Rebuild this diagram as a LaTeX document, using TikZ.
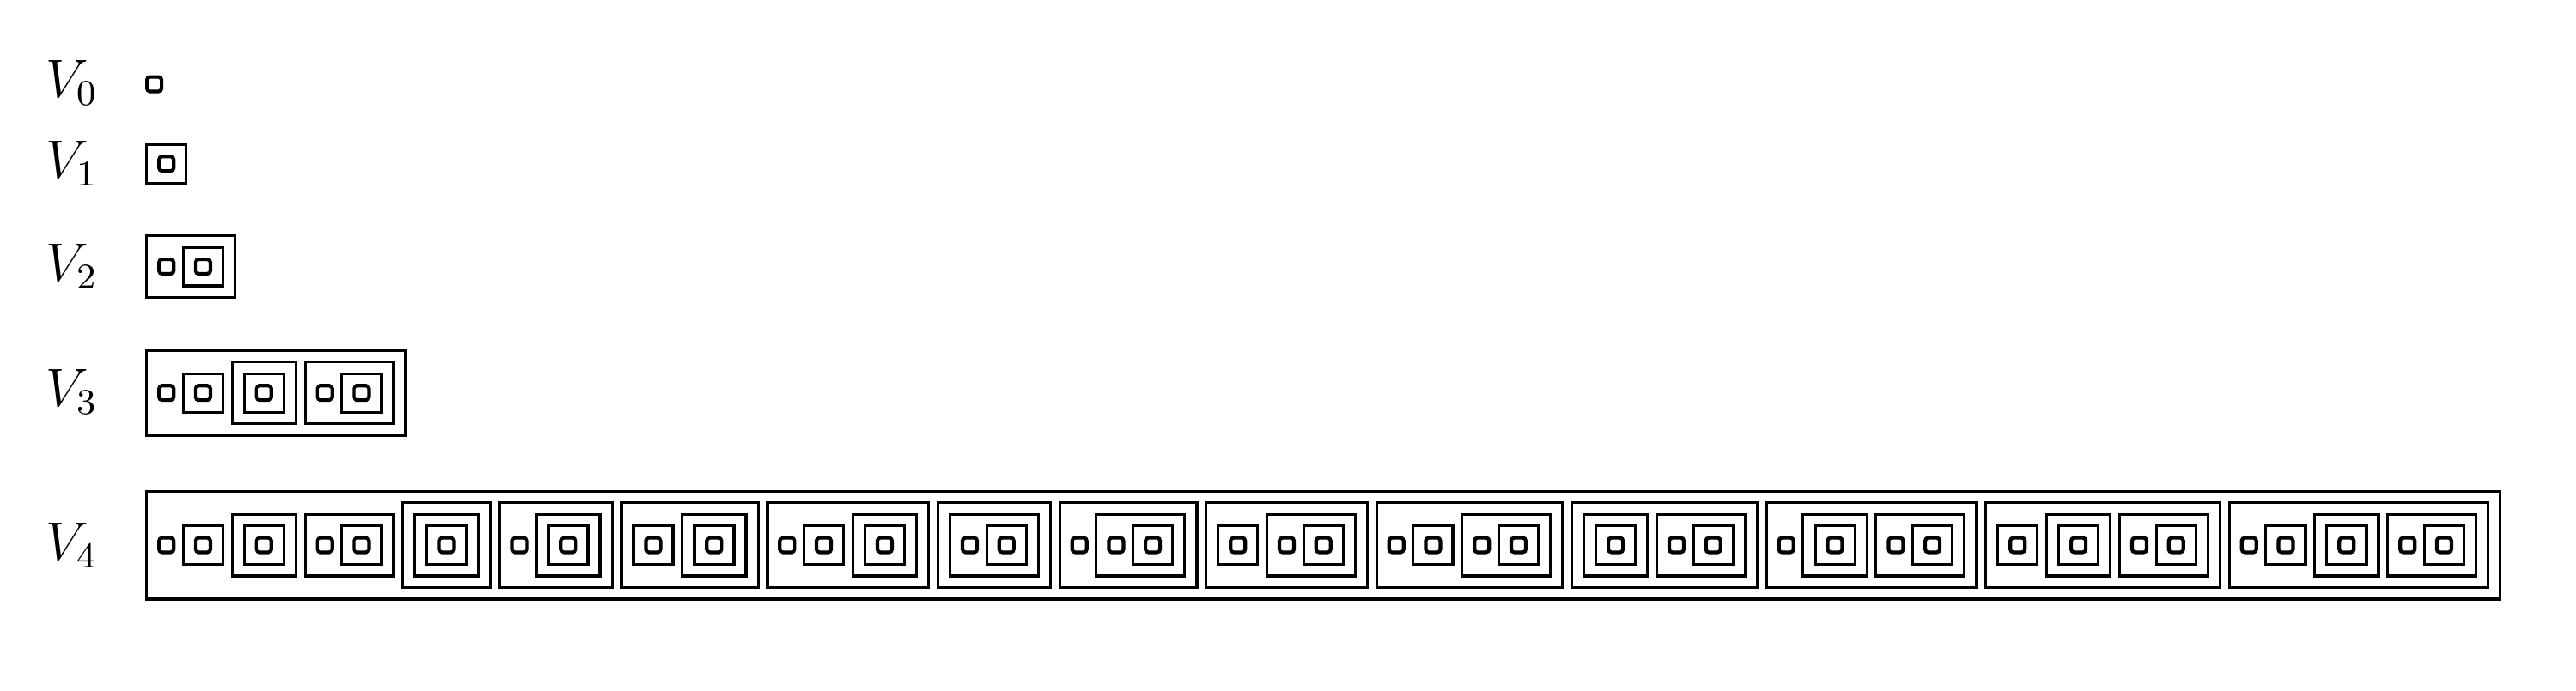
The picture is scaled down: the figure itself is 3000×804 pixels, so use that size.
\documentclass[tikz,border=0pt]{standalone}

% geometry of the drawing (pt = px of the 3000x804 target)
\newdimen\wzero  \wzero=21.2pt
\newdimen\hzero  \hzero=21pt
\newdimen\padx   \padx=14.1pt
\newdimen\pady   \pady=13.5pt
\newdimen\gapx   \gapx=7.4pt
\newdimen\lwbox  \lwbox=3.2pt
\newdimen\lwempty \lwempty=4.2pt

\newdimen\wacc
\newcount\kcnt
\newcount\mtmp
\newcount\itmp
\newcount\dmax

% set number n (Ackermann coding): elements are sets i with bit i of n set
\expandafter\xdef\csname sw0\endcsname{\the\wzero}
\expandafter\xdef\csname sd0\endcsname{0}
\expandafter\xdef\csname sh0\endcsname{\the\hzero}

\def\computeW#1{%
  \wacc=0pt \kcnt=0 \mtmp=#1 \itmp=0 \dmax=0
  \loop
    \ifodd\mtmp
      \advance\wacc by \csname sw\the\itmp\endcsname\relax
      \advance\kcnt by 1
      \advance\mtmp by -1
      \ifnum\csname sd\the\itmp\endcsname>\dmax \dmax=\csname sd\the\itmp\endcsname\relax\fi
    \fi
    \divide\mtmp by 2
    \advance\itmp by 1
  \ifnum\mtmp>0 \repeat
  \advance\wacc by 2\padx
  \advance\kcnt by -1
  \advance\wacc by \kcnt\gapx
  \advance\dmax by 1
  \expandafter\xdef\csname sw#1\endcsname{\the\wacc}%
  \expandafter\xdef\csname sd#1\endcsname{\the\dmax}%
  \expandafter\xdef\csname sh#1\endcsname{\the\dimexpr\hzero+\dmax\pady*2\relax}%
}
\computeW{1}\computeW{2}\computeW{3}\computeW{4}\computeW{5}
\computeW{6}\computeW{7}\computeW{8}\computeW{9}\computeW{10}
\computeW{11}\computeW{12}\computeW{13}\computeW{14}\computeW{15}
\computeW{65535}

\tikzset{
  setbox/.style={draw=black, line width=\lwbox},
  emptybox/.style={draw=black, line width=\lwempty, rounded corners=3.5pt},
  vlabel/.style={anchor=base west, inner sep=0pt, scale=5.25, transform shape,
                 font=\fontsize{12}{14}\selectfont}
}

\def\drawempty#1#2{%
  \edef\bxa{\the\dimexpr#1+0.5\lwempty\relax}%
  \edef\bxb{\the\dimexpr#1+\wzero-0.5\lwempty\relax}%
  \edef\bya{\the\dimexpr0pt-#2+\hzero/2-0.5\lwempty\relax}%
  \edef\byb{\the\dimexpr0pt-#2-\hzero/2+0.5\lwempty\relax}%
  \draw[emptybox] (\bxa,\bya) rectangle (\bxb,\byb);%
}
\def\drawbox#1#2#3{%
  \edef\bxa{\the\dimexpr#2+0.5\lwbox\relax}%
  \edef\bxb{\the\dimexpr#2+\csname sw#1\endcsname-0.5\lwbox\relax}%
  \edef\bya{\the\dimexpr0pt-#3+\csname sh#1\endcsname/2-0.5\lwbox\relax}%
  \edef\byb{\the\dimexpr0pt-#3-\csname sh#1\endcsname/2+0.5\lwbox\relax}%
  \draw[setbox] (\bxa,\bya) rectangle (\bxb,\byb);%
}
\def\drawset#1#2#3{%
  \ifnum#1=0 \drawempty{#2}{#3}%
  \else
    \drawbox{#1}{#2}{#3}%
    \drawelems{#1}{0}{\the\dimexpr#2+\padx\relax}{#3}%
  \fi}
\def\drawelems#1#2#3#4{%
  \ifnum#1>0
    \ifodd#1
      \drawset{#2}{#3}{#4}%
      \edef\vnnext{\noexpand\drawelems{\the\numexpr(#1-1)/2\relax}{\the\numexpr#2+1\relax}{\the\dimexpr#3+\csname sw#2\endcsname+\gapx\relax}{#4}}%
    \else
      \edef\vnnext{\noexpand\drawelems{\the\numexpr#1/2\relax}{\the\numexpr#2+1\relax}{#3}{#4}}%
    \fi
  \else
    \let\vnnext\relax
  \fi
  \vnnext}

\begin{document}
\begin{tikzpicture}
\useasboundingbox (0pt,0pt) rectangle (3000pt,-804pt);
\node[vlabel] (v0) at (52pt,-113pt) {$V_0$};
\node[vlabel] (v1) at (52pt,-207pt) {$V_1$};
\node[vlabel] (v2) at (52pt,-327pt) {$V_2$};
\node[vlabel] (v3) at (52pt,-473pt) {$V_3$};
\node[vlabel] (v4) at (52pt,-652pt) {$V_4$};
\drawset{0}{169pt}{98pt}
\drawset{1}{169pt}{190.7pt}
\drawset{3}{169pt}{310.5pt}
\drawset{15}{169pt}{457.7pt}
\drawset{65535}{169pt}{635pt}
\end{tikzpicture}
\end{document}
